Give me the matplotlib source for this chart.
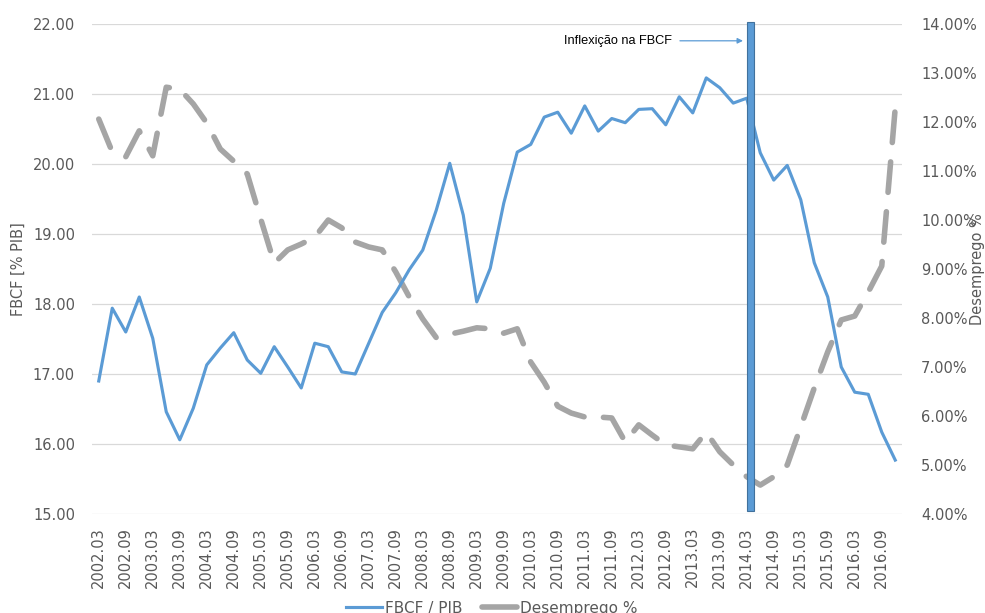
import numpy as np
import matplotlib.pyplot as plt
from matplotlib.lines import Line2D

# trimestres 2002.03 ... 2016.12
quarters = [f'{y}.{m}' for y in range(2002, 2017) for m in ('03', '06', '09', '12')]

fbcf_pib = [16.90, 17.94, 17.60, 18.10, 17.51, 16.46, 16.06, 16.51, 17.13, 17.37,
            17.59, 17.20, 17.01, 17.39, 17.10, 16.80, 17.44, 17.39, 17.03, 17.00,
            17.44, 17.88, 18.16, 18.49, 18.77, 19.34, 20.01, 19.27, 18.03, 18.51,
            19.44, 20.17, 20.28, 20.67, 20.74, 20.44, 20.83, 20.47, 20.65, 20.59,
            20.78, 20.79, 20.56, 20.96, 20.73, 21.23, 21.09, 20.87, 20.94, 20.16,
            19.77, 19.98, 19.49, 18.59, 18.10, 17.10, 16.74, 16.71, 16.17, 15.77]

desemprego = [12.06, 11.39, 11.29, 11.82, 11.31, 12.71, 12.67, 12.37, 11.98, 11.45,
              11.20, 10.94, 10.02, 9.12, 9.39, 9.51, 9.65, 10.00, 9.84, 9.55,
              9.45, 9.39, 8.94, 8.43, 7.98, 7.60, 7.67, 7.73, 7.80, 7.78,
              7.69, 7.78, 7.10, 6.69, 6.20, 6.06, 5.98, 5.98, 5.96, 5.47,
              5.82, 5.61, 5.41, 5.37, 5.33, 5.67, 5.27, 5.00, 4.76, 4.59,
              4.76, 5.00, 5.78, 6.57, 7.31, 7.96, 8.04, 8.53, 9.06, 12.29]

left_ticks = np.arange(15, 23)
right_ticks = np.arange(4, 15)
inflexao = '2014.03'

txt = '#595959'
blue = '#5B9BD5'
gray = '#A5A5A5'

fig = plt.figure(figsize=(9.85, 6.13), dpi=100)
ax = fig.add_axes([92 / 985, 1 - 514 / 613, 810 / 985, 490 / 613])
ax2 = ax.twinx()

x = np.arange(len(quarters))

ax.yaxis.grid(True, color='#D9D9D9', lw=0.9)
ax.set_axisbelow(True)

l_des, = ax2.plot(x, desemprego, color=gray, lw=4, dashes=(5.5, 3.5),
                  dash_capstyle='round', zorder=2)
# FBCF na escala da esquerda, desenhada por cima do desemprego
l_fbcf, = ax2.plot(x, fbcf_pib, color=blue, lw=2.25, transform=ax.transData, zorder=3)

xi = quarters.index(inflexao) + 0.3
ax2.axvspan(xi - 0.25, xi + 0.25, ymin=0.006, ymax=1.004, fc=blue, ec='#41719C',
            lw=0.8, clip_on=False, zorder=4)

ax.text(42.45, 21.76, 'Inflexição na FBCF', ha='right', va='center', fontsize=9.2,
        color='black', family='Liberation Sans')
ax.annotate('', xy=(47.72, 21.76), xytext=(43.05, 21.76),
            arrowprops=dict(arrowstyle='-|>', color=blue, lw=0.9, mutation_scale=8,
                            shrinkA=0, shrinkB=0))

ax.set_xlim(-0.5, len(quarters) - 0.5)
ax.set_ylim(left_ticks[0], left_ticks[-1])
ax2.set_ylim(right_ticks[0], right_ticks[-1])

ax.set_xticks(x[::2])
ax.set_xticklabels(quarters[::2], rotation=90)
ax.set_yticks(left_ticks)
ax.set_yticklabels([f'{v:.2f}' for v in left_ticks])
ax2.set_yticks(right_ticks)
ax2.set_yticklabels([f'{v:.2f}%' for v in right_ticks])

ax.tick_params(axis='x', length=0, pad=9.4, labelsize=10.5, labelcolor=txt)
ax.tick_params(axis='y', length=0, pad=12.2, labelsize=10.5, labelcolor=txt)
ax2.tick_params(axis='y', length=0, pad=13.7, labelsize=10.5, labelcolor=txt)

for a in (ax, ax2):
    for s in a.spines.values():
        s.set_visible(False)

ax.set_ylabel('FBCF [% PIB]', fontsize=10.5, color=txt, va='center')
ax.yaxis.set_label_coords(-0.0907, 0.5)
ax2.set_ylabel('Desemprego %', fontsize=10.5, color=txt, rotation=90, va='center')
ax2.yaxis.set_label_coords(1.0926, 0.5)

handles = [Line2D([], [], color=blue, lw=2.25),
           Line2D([], [], color=gray, lw=4, solid_capstyle='round')]
fig.legend(handles, ['FBCF / PIB', 'Desemprego %'], loc='center',
           bbox_to_anchor=(0.4995, 5 / 613), ncol=2, frameon=False, fontsize=11,
           labelcolor=txt, handlelength=2.3, handletextpad=0.2, columnspacing=1.3)

fig.savefig('out.png', dpi=100)
